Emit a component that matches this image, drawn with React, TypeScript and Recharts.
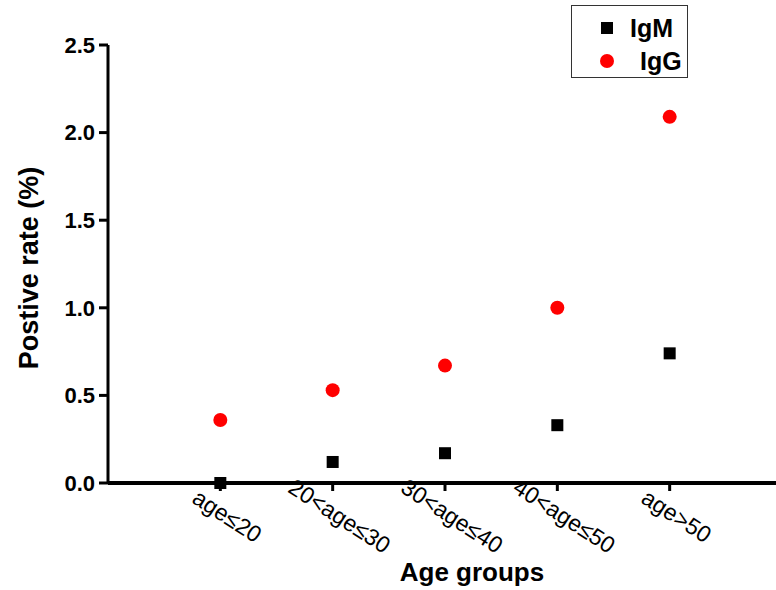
import React from 'react';
import { ScatterChart, Scatter, XAxis, YAxis, Legend, Label } from 'recharts';

const categories = ['age≤20', '20<age≤30', '30<age≤40', '40<age≤50', 'age>50'];
const igmValues = [0.0, 0.12, 0.17, 0.33, 0.74];
const iggValues = [0.36, 0.53, 0.67, 1.0, 2.09];
const yTicks = [0, 0.5, 1.0, 1.5, 2.0, 2.5];
const xTicks = [1, 2, 3, 4, 5];

const igmData = categories.map((c, i) => ({ x: i + 1, y: igmValues[i], group: c }));
const iggData = categories.map((c, i) => ({ x: i + 1, y: iggValues[i], group: c }));

const FONT = 'Arial, "Liberation Sans", sans-serif';

const SquareDot = (props: any) => {
  const { cx, cy } = props;
  return <rect x={cx - 6} y={cy - 6} width={12} height={12} fill="#000" />;
};

const RoundDot = (props: any) => {
  const { cx, cy } = props;
  return <circle cx={cx} cy={cy} r={7} fill="#ff0000" />;
};

const AgeTick = (props: any) => {
  const { x, y, payload } = props;
  const label = categories[payload.value - 1] ?? '';
  return (
    <g transform={`translate(${x + 7},${y + 23}) rotate(33)`}>
      <text textAnchor="middle" dominantBaseline="central" fontSize={23} fill="#000" fontFamily={FONT}>
        {label}
      </text>
    </g>
  );
};

const LegendBox = () => (
  <div
    style={{
      width: 115,
      height: 71,
      border: '1.5px solid #333',
      background: '#fff',
      position: 'relative',
    }}
  >
    <svg width={115} height={71} style={{ position: 'absolute', left: 0, top: 0 }}>
      <rect x={29} y={16} width={12} height={12} fill="#000" />
      <circle cx={35} cy={55} r={7} fill="#ff0000" />
      <text x={58} y={31} fontSize={25} fontWeight="bold" fontFamily={FONT}>IgM</text>
      <text x={68} y={64} fontSize={25} fontWeight="bold" fontFamily={FONT}>IgG</text>
    </svg>
  </div>
);

export default function App() {
  return (
    <div style={{ position: 'absolute', left: 0, top: 0, width: 776, height: 590, overflow: 'hidden', background: '#fff', fontFamily: FONT }}>
      <ScatterChart width={782} height={590} margin={{ top: 45, right: 0, bottom: 0, left: 0 }}>
        <XAxis
          type="number"
          dataKey="x"
          domain={[0, 6]}
          ticks={xTicks}
          height={107}
          axisLine={{ stroke: '#000', strokeWidth: 4 }}
          tickLine={{ stroke: '#000', strokeWidth: 3 }}
          tickSize={8}
          tick={<AgeTick />}
          interval={0}
        >
          <Label
            content={() => (
              <text x={472} y={581} textAnchor="middle" fontSize={26} fontWeight="bold" fill="#000" fontFamily={FONT}>
                Age groups
              </text>
            )}
          />
        </XAxis>
        <YAxis
          type="number"
          dataKey="y"
          domain={[0, 2.5]}
          ticks={yTicks}
          width={108}
          axisLine={{ stroke: '#000', strokeWidth: 3 }}
          tickLine={{ stroke: '#000', strokeWidth: 3 }}
          tickSize={9}
          tickMargin={4}
          tickFormatter={(v: number) => v.toFixed(1)}
          tick={{ fill: '#000', fontSize: 22, fontWeight: 'bold', fontFamily: FONT }}
        >
          <Label
            content={() => (
              <text
                x={38}
                y={268}
                transform="rotate(-90, 38, 268)"
                textAnchor="middle"
                fontSize={27}
                fontWeight="bold"
                fill="#000"
                fontFamily={FONT}
              >
                Postive rate (%)
              </text>
            )}
          />
        </YAxis>
        <Legend
          layout="horizontal"
          verticalAlign="middle"
          align="center"
          content={<LegendBox />}
          wrapperStyle={{ left: 571, top: 5, width: 118, height: 74 }}
        />
        <Scatter name="IgM" data={igmData} shape={<SquareDot />} isAnimationActive={false} />
        <Scatter name="IgG" data={iggData} shape={<RoundDot />} isAnimationActive={false} />
      </ScatterChart>
    </div>
  );
}
